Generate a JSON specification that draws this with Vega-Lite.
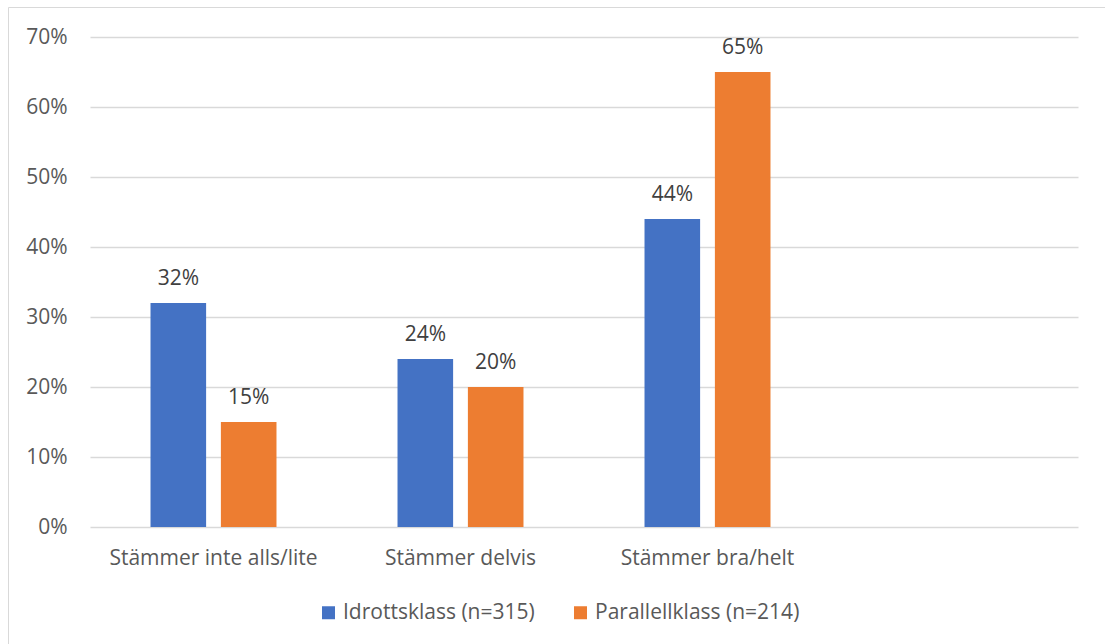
{
  "$schema": "https://vega.github.io/schema/vega-lite/v6.json",
  "width": 1097,
  "height": 637,
  "autosize": "none",
  "padding": {"left": 8, "top": 7, "right": 0, "bottom": 0},
  "background": "#FFFFFF",
  "config": {
    "view": {"stroke": "#D9D9D9", "strokeWidth": 1},
    "font": "Open Sans"
  },
  "data": {
    "values": [
      {"svar": "Stämmer inte alls/lite", "grupp": "Idrottsklass (n=315)", "andel": 0.32},
      {"svar": "Stämmer inte alls/lite", "grupp": "Parallellklass (n=214)", "andel": 0.15},
      {"svar": "Stämmer delvis", "grupp": "Idrottsklass (n=315)", "andel": 0.24},
      {"svar": "Stämmer delvis", "grupp": "Parallellklass (n=214)", "andel": 0.20},
      {"svar": "Stämmer bra/helt", "grupp": "Idrottsklass (n=315)", "andel": 0.44},
      {"svar": "Stämmer bra/helt", "grupp": "Parallellklass (n=214)", "andel": 0.65}
    ]
  },
  "encoding": {
    "x": {
      "field": "svar",
      "type": "nominal",
      "sort": null,
      "scale": {
        "domain": ["Stämmer inte alls/lite", "Stämmer delvis", "Stämmer bra/helt", " "],
        "range": [82, 1070],
        "paddingInner": 0.49,
        "paddingOuter": 0.245
      },
      "axis": {
        "title": null,
        "offset": -117,
        "domain": false,
        "ticks": false,
        "grid": false,
        "labelAngle": 0,
        "labelPadding": 20,
        "labelFont": "Open Sans",
        "labelFontSize": 21,
        "labelColor": "#595959",
        "labelLimit": 0
      }
    },
    "xOffset": {
      "field": "grupp",
      "type": "nominal",
      "sort": ["Idrottsklass (n=315)", "Parallellklass (n=214)"],
      "scale": {"paddingInner": 0.21, "paddingOuter": 0}
    },
    "y": {
      "field": "andel",
      "type": "quantitative",
      "scale": {"domain": [0, 0.7], "range": [520, 30], "nice": false},
      "axis": {
        "title": null,
        "offset": -82,
        "domain": false,
        "ticks": false,
        "format": ".0%",
        "values": [0, 0.1, 0.2, 0.3, 0.4, 0.5, 0.6, 0.7],
        "labelOverlap": false,
        "labelPadding": 23,
        "labelFont": "Open Sans",
        "labelFontSize": 21,
        "labelColor": "#595959",
        "gridColor": "#D9D9D9",
        "gridWidth": 1.5
      }
    }
  },
  "layer": [
    {
      "mark": {"type": "bar"},
      "encoding": {
        "color": {
          "field": "grupp",
          "type": "nominal",
          "sort": ["Idrottsklass (n=315)", "Parallellklass (n=214)"],
          "scale": {"range": ["#4472C4", "#ED7D31"]},
          "legend": {
            "title": null,
            "orient": "none",
            "direction": "horizontal",
            "legendX": 310,
            "legendY": 595,
            "symbolType": "square",
            "symbolSize": 169,
            "symbolStrokeWidth": 0,
            "labelFont": "Open Sans",
            "labelFontSize": 21,
            "labelColor": "#595959",
            "labelLimit": 0,
            "labelOffset": 4,
            "columnPadding": 35
          }
        }
      }
    },
    {
      "mark": {"type": "text", "baseline": "alphabetic", "dy": -18, "fontSize": 21, "color": "#404040", "font": "Open Sans"},
      "encoding": {
        "text": {"field": "andel", "type": "quantitative", "format": ".0%"}
      }
    }
  ]
}
